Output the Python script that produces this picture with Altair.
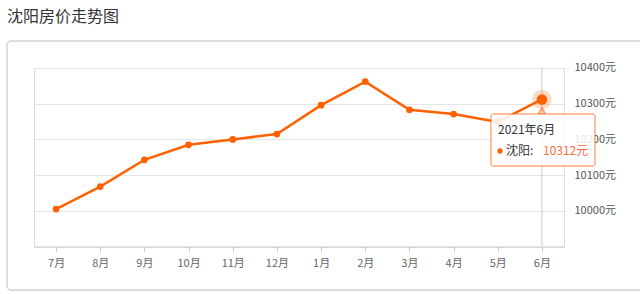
import altair as alt
import pandas as pd

months = ["7月", "8月", "9月", "10月", "11月", "12月", "1月", "2月", "3月", "4月", "5月", "6月"]
prices = [10005, 10068, 10143, 10185, 10200, 10215, 10296, 10362, 10283, 10271, 10249, 10312]
y_ticks = [10000, 10100, 10200, 10300, 10400]

title_text = "沈阳房价走势图"
tip_date = "2021年6月"
tip_city = "沈阳:"
tip_value = "10312元"

ORANGE = "#ff6000"
FONT = "Noto Sans CJK SC"

df = pd.DataFrame({"month": months, "price": prices})
last = df.iloc[[-1]]

xs = alt.X("month:N", sort=months, scale=alt.Scale(type="point", padding=0.5),
           axis=alt.Axis(title=None, labelAngle=0, labelFont=FONT, labelFontSize=11,
                         labelColor="#666", domainColor="#ccc", tickColor="#ccc",
                         tickSize=5, labelPadding=6, grid=False, zindex=0))
ys = alt.Y("price:Q", scale=alt.Scale(domain=[9900, 10400], nice=False, zero=False),
           axis=alt.Axis(title=None, orient="right", values=y_ticks,
                         labelExpr="datum.value + '元'", labelFont=FONT, labelFontSize=11,
                         labelColor="#555", domainColor="#ddd", ticks=False,
                         gridColor="#e4e4e4", labelPadding=10, zindex=0))

base = alt.Chart(df)

frame = base.mark_rect(fill="transparent", stroke="#dddddd", strokeWidth=1, cornerRadius=4).encode(
    x=alt.value(-27), x2=alt.value(620), y=alt.value(-27), y2=alt.value(222))

title = alt.Chart(pd.DataFrame({"t": [title_text]})).mark_text(
    align="left", baseline="middle", font=FONT, fontSize=16, color="#333").encode(
    x=alt.value(-27), y=alt.value(-51), text="t:N")

line = base.mark_line(color=ORANGE, strokeWidth=2.5).encode(x=xs, y=ys)
pts = base.mark_circle(color=ORANGE, opacity=1, size=45).encode(x=xs, y=ys)

cross = alt.Chart(last).mark_rule(color="#cccccc", strokeWidth=1).encode(
    x=xs, y=alt.value(0), y2=alt.value(178))

halo = alt.Chart(last).mark_circle(color=ORANGE, opacity=0.22, size=380).encode(x=xs, y=ys)
big = alt.Chart(last).mark_circle(color=ORANGE, opacity=1, size=110).encode(x=xs, y=ys)

tip_box = alt.Chart(last).mark_rect(fill="white", fillOpacity=0.85, stroke=ORANGE,
                                    strokeOpacity=0.8, strokeWidth=1, cornerRadius=2).encode(
    x=alt.value(457), x2=alt.value(561), y=alt.value(46), y2=alt.value(98))
tip_arrow = alt.Chart(last).mark_point(shape="triangle-up", filled=True, fill="white",
                                       stroke=ORANGE, strokeOpacity=0.8, size=40).encode(
    x=xs, y=alt.value(43))
tip_cover = alt.Chart(last).mark_rect(fill="white").encode(
    x=alt.value(500), x2=alt.value(514), y=alt.value(46.6), y2=alt.value(49))

tip_t1 = alt.Chart(pd.DataFrame({"t": [tip_date]})).mark_text(
    align="left", baseline="middle", font=FONT, fontSize=12, color="#333").encode(
    x=alt.value(464), y=alt.value(62), text="t:N")
tip_dot = alt.Chart(last).mark_circle(color=ORANGE, opacity=1, size=28).encode(
    x=alt.value(466), y=alt.value(83))
tip_t2 = alt.Chart(pd.DataFrame({"t": [tip_city]})).mark_text(
    align="left", baseline="middle", font=FONT, fontSize=12, color="#333").encode(
    x=alt.value(472), y=alt.value(83), text="t:N")
tip_t3 = alt.Chart(pd.DataFrame({"t": [tip_value]})).mark_text(
    align="left", baseline="middle", font=FONT, fontSize=12, color="#ff6a3a").encode(
    x=alt.value(509), y=alt.value(83), text="t:N")

chart = alt.layer(frame, title, line, cross, pts, halo, big,
                  tip_box, tip_arrow, tip_cover, tip_t1, tip_dot, tip_t2, tip_t3).properties(
    width=530, height=178.6,
    padding={"left": 34, "top": 68, "right": 76, "bottom": 47},
    autosize=alt.AutoSizeParams(type="none"),
).configure_view(strokeWidth=0).configure(background="white")

chart.save("out.html", embed_options={"renderer": "svg", "actions": False})
